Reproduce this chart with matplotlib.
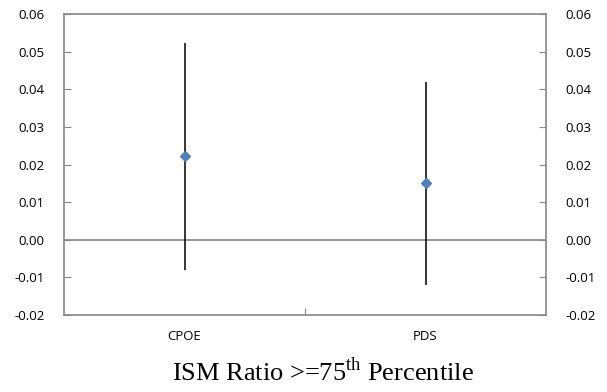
import matplotlib
matplotlib.use("Agg")
import matplotlib.pyplot as plt
from matplotlib.ticker import MultipleLocator, FormatStrFormatter

plt.rcParams["mathtext.fontset"] = "custom"
plt.rcParams["mathtext.rm"] = "Liberation Serif"

# data
categories = ["CPOE", "PDS"]
point = [0.0222, 0.0150]
upper = [0.0524, 0.0420]
lower = [-0.0080, -0.0120]

x = list(range(1, len(categories) + 1))
err_lo = [p - lo for p, lo in zip(point, lower)]
err_hi = [hi - p for p, hi in zip(point, upper)]

fig = plt.figure(figsize=(6.07, 3.92), dpi=100)
W, H = 607, 392
ax = fig.add_axes([64 / W, 1 - 315 / H, (546 - 64) / W, (315 - 14) / H])

ax.errorbar(x, point, yerr=[err_lo, err_hi], fmt="none", ecolor="black",
            elinewidth=1.1, capsize=0, zorder=3)
ax.plot(x, point, linestyle="none", marker="D", markersize=5.5,
        color="#4F81BD", markeredgecolor="#4F81BD", zorder=4)
ax.axhline(0, color="#888888", linewidth=1.2, zorder=1)

ax.set_xlim(0.5, len(categories) + 0.5)
ax.set_ylim(-0.02, 0.06)
ax.yaxis.set_major_locator(MultipleLocator(0.01))
ax.yaxis.set_major_formatter(FormatStrFormatter("%.2f"))

ax.set_xticks([1.5])
ax.set_xticklabels([""])
for i, c in zip(x, categories):
    ax.text(i, -0.0258, c, ha="center", va="center", fontsize=9.5,
            family="Open Sans", transform=ax.transData)

for s in ax.spines.values():
    s.set_color("#888888")
    s.set_linewidth(1.2)

ax.tick_params(axis="y", direction="in", length=5, color="#888888",
               labelsize=9.5, left=True, right=True, labelleft=True,
               labelright=True, pad=14)
ax.tick_params(axis="x", direction="in", length=5, color="#888888")
for lab in ax.get_yticklabels():
    lab.set_family("Open Sans")

fig.text(322.5 / W, 1 - 372 / H, "ISM Ratio >=75$^{\\mathrm{th}}$ Percentile",
         ha="center", va="center", fontsize=19, family="Liberation Serif")

fig.savefig("out.png", dpi=100)
